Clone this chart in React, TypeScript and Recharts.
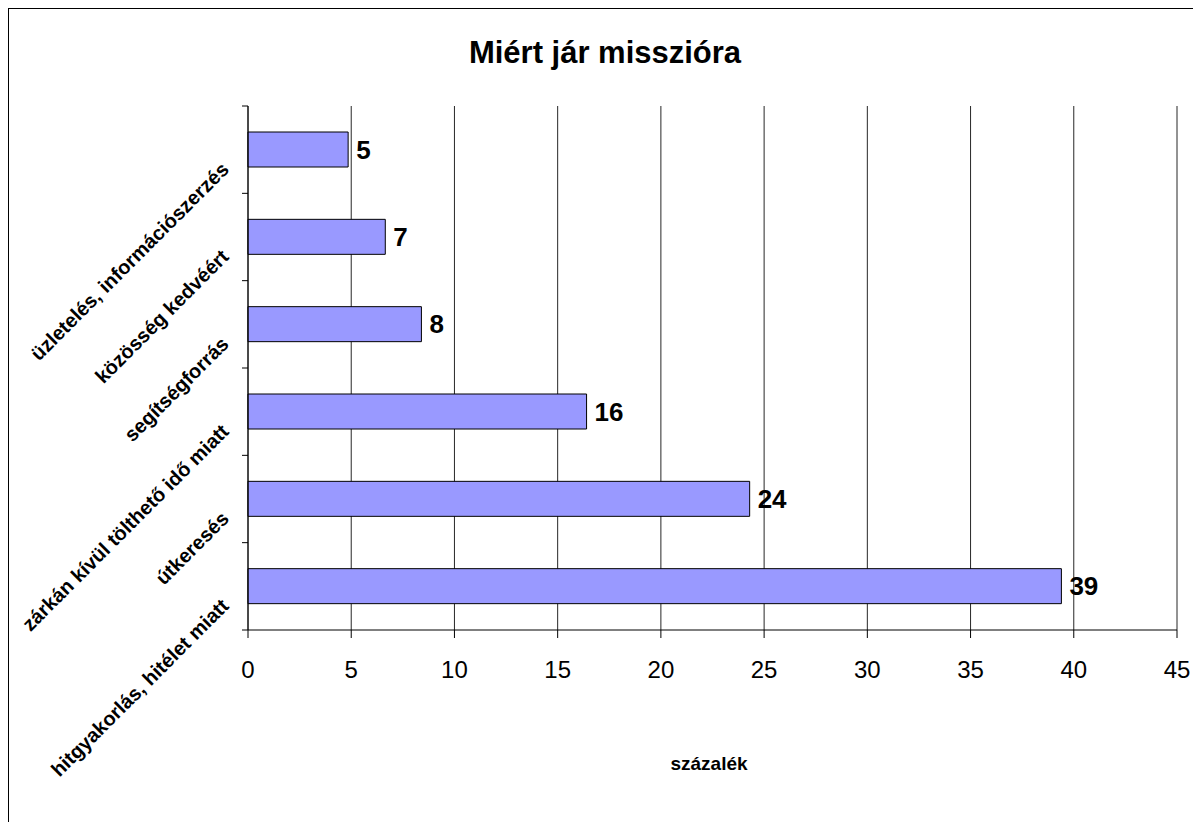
import { BarChart, Bar, XAxis, YAxis, CartesianGrid, LabelList } from 'recharts';

const categories = [
  'üzletelés, információszerzés',
  'közösség kedvéért',
  'segítségforrás',
  'zárkán kívül tölthető idő miatt',
  'útkeresés',
  'hitgyakorlás, hitélet miatt',
];
const percents = [4.85, 6.65, 8.4, 16.4, 24.3, 39.4];
const xTicks = [0, 5, 10, 15, 20, 25, 30, 35, 40, 45];

const title = 'Miért jár misszióra';
const xTitle = 'százalék';

const data = categories.map((name, i) => ({ name, value: percents[i] }));

const W = 1192;
const H = 813;
const PLOT_LEFT = 239;
const PLOT_TOP = 97;
const PLOT_RIGHT = 1168;
const PLOT_BOTTOM = 621;
const BAND = (PLOT_BOTTOM - PLOT_TOP) / categories.length;
const FONT = '"Liberation Sans", Arial, sans-serif';

function CategoryTick(props: any) {
  const { y, payload, index } = props;
  const ax = PLOT_LEFT - 18;
  const ay = y + 21;
  return (
    <g>
      <line x1={PLOT_LEFT - 6} x2={PLOT_LEFT} y1={y - BAND / 2} y2={y - BAND / 2} stroke="#000" />
      {index === categories.length - 1 && (
        <line x1={PLOT_LEFT - 6} x2={PLOT_LEFT} y1={y + BAND / 2} y2={y + BAND / 2} stroke="#000" />
      )}
      <text
        x={ax}
        y={ay}
        transform={`rotate(-45, ${ax}, ${ay})`}
        textAnchor="end"
        fontFamily={FONT}
        fontWeight="bold"
        fontSize={20}
        fill="#000"
      >
        {payload.value}
      </text>
    </g>
  );
}

function ValueTick(props: any) {
  const { x, payload } = props;
  return (
    <text x={x} y={PLOT_BOTTOM + 48} textAnchor="middle" fontFamily={FONT} fontSize={24} fill="#000">
      {payload.value}
    </text>
  );
}

export default function App() {
  return (
    <div
      style={{
        position: 'relative',
        width: W,
        height: H,
        borderLeft: '1px solid #000',
        borderTop: '1px solid #000',
        background: '#fff',
      }}
    >
      <BarChart
        width={W}
        height={H}
        data={data}
        layout="vertical"
        margin={{ top: PLOT_TOP, right: W - PLOT_RIGHT, left: 0, bottom: 142 }}
        barCategoryGap={0}
      >
        <CartesianGrid horizontal={false} stroke="#000" strokeOpacity={0.85} />
        <XAxis
          type="number"
          domain={[0, 45]}
          ticks={xTicks}
          interval={0}
          height={50}
          axisLine={{ stroke: '#000' }}
          tickLine={{ stroke: '#000' }}
          tickSize={8}
          tick={<ValueTick />}
        />
        <XAxis
          xAxisId="top"
          orientation="top"
          type="number"
          domain={[0, 45]}
          height={0}
          tick={false}
          tickLine={false}
          axisLine={{ stroke: '#808080' }}
        />
        <YAxis
          type="category"
          dataKey="name"
          width={PLOT_LEFT}
          axisLine={{ stroke: '#000' }}
          tickLine={false}
          interval={0}
          tick={<CategoryTick />}
        />
        <Bar dataKey="value" fill="#9999FF" stroke="#000" strokeWidth={1} barSize={35} isAnimationActive={false}>
          <LabelList
            dataKey="value"
            position="right"
            offset={8}
            formatter={(v: any) => Math.round(Number(v))}
            fill="#000"
            fontSize={26}
            fontWeight="bold"
            fontFamily={FONT}
          />
        </Bar>
      </BarChart>
      <svg
        width={W}
        height={H}
        style={{ position: 'absolute', left: 0, top: 0, pointerEvents: 'none' }}
      >
        <text x={596} y={54} textAnchor="middle" fontFamily={FONT} fontWeight="bold" fontSize={31} fill="#000">
          {title}
        </text>
        <text x={700} y={761} textAnchor="middle" fontFamily={FONT} fontWeight="bold" fontSize={19} fill="#000">
          {xTitle}
        </text>
      </svg>
    </div>
  );
}
